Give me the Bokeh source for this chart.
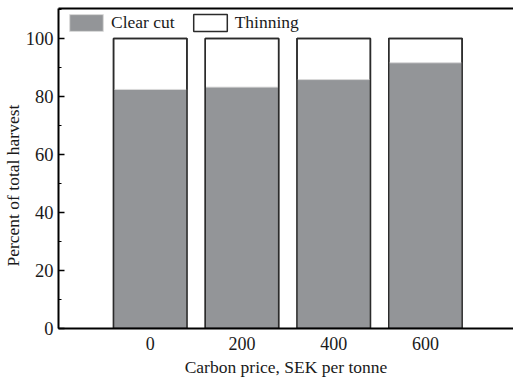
from bokeh.plotting import figure
from bokeh.models import (Range1d, FixedTicker, SingleIntervalTicker, LinearAxis,
                          Legend, LegendItem, Title, ColumnDataSource)
from bokeh.embed import file_html
from bokeh.resources import INLINE

# data
prices = ["0", "200", "400", "600"]
clear_cut = [82.4, 83.2, 85.8, 91.6]
thinning = [100 - v for v in clear_cut]

xpos = [i + 1 for i in range(len(prices))]
totals = [c + t for c, t in zip(clear_cut, thinning)]
src = ColumnDataSource(dict(x=xpos, cc=clear_cut, tot=totals))

FONT = "Liberation Serif"
DARK = "#2b2b2b"
GRAY = "#939598"
TXT = "#1a1a1a"

p = figure(width=513, height=379, output_backend="svg", toolbar_location=None,
           x_range=Range1d(0, 4.96), y_range=Range1d(0, 110.3),
           min_border_left=58, min_border_right=0, min_border_top=8,
           min_border_bottom=49, outline_line_color=None)
p.grid.visible = False
p.background_fill_color = "white"
p.border_fill_color = "white"

# bars
r_thin = p.vbar(x="x", width=0.8, bottom=0, top="tot", source=src,
                fill_color="white", line_color=DARK, line_width=1.5)
r_cc = p.vbar(x="x", width=0.8, bottom=0, top="cc", source=src,
              fill_color=GRAY, line_color="#dadada", line_width=1)
p.vbar(x="x", width=0.8, bottom=0, top="tot", source=src,
       fill_color=None, line_color=DARK, line_width=1.5)

# axes
xa = p.xaxis[0]
xa.ticker = FixedTicker(ticks=xpos)
xa.major_label_overrides = {x: lab for x, lab in zip(xpos, prices)}
xa.major_tick_line_color = None
xa.minor_tick_line_color = None
xa.major_tick_out = 0
xa.major_tick_in = 0
xa.axis_line_width = 2
xa.axis_line_color = "black"
xa.major_label_text_font = FONT
xa.major_label_text_font_size = "18px"
xa.major_label_text_color = TXT
xa.major_label_standoff = 8
xa.axis_label = "Carbon price, SEK per tonne"
xa.axis_label_text_font = FONT
xa.axis_label_text_font_size = "17.5px"
xa.axis_label_text_font_style = "normal"
xa.axis_label_text_color = TXT
xa.axis_label_standoff = 4

ya = p.yaxis[0]
ya.ticker = SingleIntervalTicker(interval=20, num_minor_ticks=2)
ya.major_tick_in = 6
ya.major_tick_out = 0
ya.minor_tick_in = 3
ya.minor_tick_out = 0
ya.major_tick_line_width = 1.5
ya.axis_line_width = 2
ya.axis_line_color = "black"
ya.major_tick_line_color = "black"
ya.minor_tick_line_color = "black"
ya.major_label_text_font = FONT
ya.major_label_text_font_size = "18.5px"
ya.major_label_text_color = TXT
ya.major_label_standoff = 5

# top frame line
top = LinearAxis(major_tick_line_color=None, minor_tick_line_color=None,
                 major_tick_out=0, major_tick_in=0,
                 major_label_text_font_size="0px", axis_line_width=2,
                 axis_line_color="black", major_label_standoff=0)
top.ticker = FixedTicker(ticks=[])
p.add_layout(top, "above")

# y label
p.add_layout(Title(text="Percent of total harvest", align="left", offset=62,
                   text_font=FONT, text_font_size="17.5px", text_font_style="normal",
                   text_color=TXT, standoff=0), "left")

legend = Legend(items=[LegendItem(label="Clear cut", renderers=[r_cc]),
                       LegendItem(label="Thinning", renderers=[r_thin])],
                orientation="horizontal", location=(7, 295),
                margin=0, padding=0, spacing=14, label_standoff=4,
                glyph_width=42, glyph_height=21,
                label_text_font=FONT, label_text_font_size="17.5px",
                label_text_color=TXT,
                border_line_color=None, background_fill_alpha=0)
p.add_layout(legend, "center")

open("out.html", "w").write(file_html(p, INLINE))
